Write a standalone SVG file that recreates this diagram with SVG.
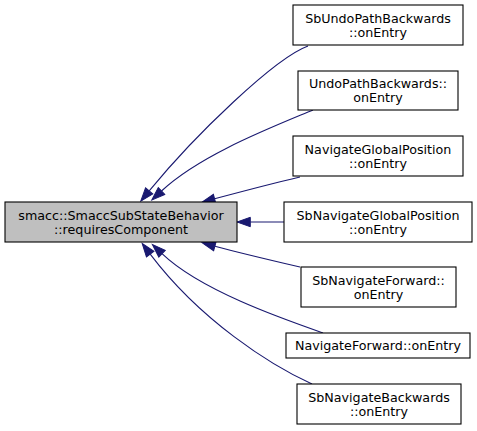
<svg xmlns="http://www.w3.org/2000/svg" width="477" height="431" viewBox="0 0 477 431">
<defs>
<style>
.n rect{fill:#fff;stroke:#000;stroke-width:1.1}
#main rect{fill:#bfbfbf}
text{font-family:"DejaVu Sans","Liberation Sans",sans-serif;font-size:12.7px;text-anchor:middle;fill:#000}
.e path{fill:none;stroke:#191970;stroke-width:1.1;marker-end:url(#ah)}
</style>
<marker id="ah" markerUnits="userSpaceOnUse" markerWidth="16" markerHeight="12" refX="0" refY="0" viewBox="-1 -6 16 12" orient="auto" overflow="visible">
<path d="M0,-4.7 L13.3,0 L0,4.7 Z" fill="#191970" stroke="#191970" stroke-width="1"/>
</marker>
</defs>
<g class="e" id="edges">
<path d="M308,46 C275,58 195,135 149.2,190.9"/>
<path d="M313,110 C270,128 200,155 161.5,191"/>
<path d="M300,177 C270,184 240,192 214.6,198.8"/>
<path d="M284,222 L250.3,222"/>
<path d="M300,267 C270,260 240,253 214.9,246.2"/>
<path d="M323,333 C280,318 200,290 162,253.7"/>
<path d="M312,384 C270,365 200,320 150.2,254.1"/>
</g>
<g class="n" id="main"><rect x="5" y="202" width="232" height="40"/><text x="121" y="219.5">smacc::SmaccSubStateBehavior</text><text x="121" y="233.5">::requiresComponent</text></g>
<g class="n" id="n1"><rect x="293" y="5" width="170" height="40"/><text x="378" y="22.5">SbUndoPathBackwards</text><text x="378" y="36.5">::onEntry</text></g>
<g class="n" id="n2"><rect x="298" y="71" width="160" height="39"/><text x="378" y="88">UndoPathBackwards::</text><text x="378" y="102">onEntry</text></g>
<g class="n" id="n3"><rect x="293" y="136" width="170" height="40"/><text x="378" y="153.5">NavigateGlobalPosition</text><text x="378" y="167.5">::onEntry</text></g>
<g class="n" id="n4"><rect x="284" y="202" width="188" height="40"/><text x="378" y="219.5">SbNavigateGlobalPosition</text><text x="378" y="233.5">::onEntry</text></g>
<g class="n" id="n5"><rect x="301" y="267" width="155" height="40"/><text x="378.5" y="284.5">SbNavigateForward::</text><text x="378.5" y="298.5">onEntry</text></g>
<g class="n" id="n6"><rect x="286" y="333" width="184" height="25"/><text x="378" y="350">NavigateForward::onEntry</text></g>
<g class="n" id="n7"><rect x="297" y="384" width="164" height="40"/><text x="379" y="401.5">SbNavigateBackwards</text><text x="379" y="415.5">::onEntry</text></g>
</svg>
